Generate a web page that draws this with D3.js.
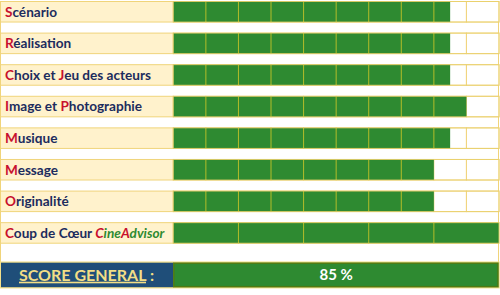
<!DOCTYPE html>
<html>
<head>
<meta charset="utf-8">
<script src="https://cdn.jsdelivr.net/npm/d3@7"></script>
<style>
  body { margin: 0; background: #fff; }
  svg { display: block; }
  .label { font-family: Lato, "Open Sans", sans-serif; font-weight: bold; font-size: 13.6px; }
</style>
</head>
<body>
<svg width="500" height="295"></svg>
<script>
// Criteria, first letters in red, rest in navy
var categories = ['Scénario', 'Réalisation', 'Choix et Jeu des acteurs', 'Image et Photographie',
  'Musique', 'Message', 'Originalité', 'Coup de Cœur CineAdvisor'];
// score out of 10 for each criterion
var scores = [8.5, 8.5, 8.5, 9, 8.5, 8, 8, 10];
// number of boxes drawn in each row
var cellCounts = [10, 10, 10, 10, 10, 10, 10, 5];
var maxScore = 10;
var scoreLabel = 'SCORE GENERAL';
var scoreText = '85 %';

var svg = d3.select('svg');
var labelW = 173.3;
var right = 499;

var x = d3.scaleLinear().domain([0, maxScore]).range([labelW, right]);
var y = d3.scaleBand().domain(categories).range([1.5, 243.2]).paddingInner(0.35);

var green = '#2E8A31';
var cream = '#FFF2CC';
var yellowLine = '#F0D47A';
var navy = '#1C2C5E';
var red = '#C8102E';

// white frame behind rows (gaps between rows)
svg.append('rect')
  .attr('x', 0.5).attr('y', 1.5)
  .attr('width', right - 1).attr('height', 261.2)
  .attr('fill', '#fff').attr('stroke', yellowLine).attr('stroke-width', 1);

var rows = svg.selectAll('g.row')
  .data(categories)
  .enter().append('g')
  .attr('class', 'row')
  .attr('transform', function(d) { return 'translate(0,' + y(d) + ')'; });

// label cell
rows.append('rect')
  .attr('x', 0.5).attr('y', 0)
  .attr('width', labelW - 0.5).attr('height', y.bandwidth())
  .attr('fill', cream).attr('stroke', yellowLine);

// score cells
rows.each(function(d, i) {
  var g = d3.select(this);
  var n = cellCounts[i];
  var step = maxScore / n;
  var cells = d3.range(n).map(function(k) { return k * step; });
  g.selectAll('rect.cell')
    .data(cells)
    .enter().append('rect')
    .attr('class', 'cell')
    .attr('x', function(c) { return x(c); })
    .attr('y', 0)
    .attr('width', x(step) - x(0))
    .attr('height', y.bandwidth())
    .attr('fill', '#fff')
    .attr('stroke', yellowLine);
  g.append('rect')
    .attr('x', x(0)).attr('y', 0)
    .attr('width', x(scores[i]) - x(0))
    .attr('height', y.bandwidth())
    .attr('fill', green);
  // lines between cells, drawn over the green
  g.selectAll('line.sep')
    .data(cells.slice(1).filter(function(c) { return c < scores[i]; }))
    .enter().append('line')
    .attr('x1', function(c) { return x(c); })
    .attr('x2', function(c) { return x(c); })
    .attr('y1', 0).attr('y2', y.bandwidth())
    .attr('stroke', '#B3BC2A').attr('stroke-width', 1);
  // row outline over the bar
  g.append('rect')
    .attr('x', x(0)).attr('y', 0)
    .attr('width', x(maxScore) - x(0))
    .attr('height', y.bandwidth())
    .attr('fill', 'none')
    .attr('stroke', '#E9D06A').attr('stroke-opacity', 0.8);
});

// label text: red capital letters
function parts(name) {
  if (name === 'Coup de Cœur CineAdvisor') {
    return [
      { t: 'C', c: red }, { t: 'oup de Cœur ', c: navy },
      { t: 'C', c: red, i: true }, { t: 'ine', c: green, i: true },
      { t: 'A', c: red, i: true }, { t: 'dvisor', c: green, i: true }
    ];
  }
  if (name === 'Choix et Jeu des acteurs') {
    return [{ t: 'C', c: red }, { t: 'hoix et ', c: navy }, { t: 'J', c: red }, { t: 'eu des acteurs', c: navy }];
  }
  if (name === 'Image et Photographie') {
    return [{ t: 'I', c: red }, { t: 'mage et ', c: navy }, { t: 'P', c: red }, { t: 'hotographie', c: navy }];
  }
  return [{ t: name[0], c: red }, { t: name.slice(1), c: navy }];
}

rows.append('text')
  .attr('class', 'label')
  .attr('x', 5)
  .attr('y', y.bandwidth() / 2)
  .attr('dy', '0.36em')
  .each(function(d) {
    var t = d3.select(this);
    parts(d).forEach(function(p) {
      t.append('tspan')
        .attr('fill', p.c)
        .style('font-style', p.i ? 'italic' : 'normal')
        .text(p.t);
    });
  });

// score row
var sy = 262.7, sh = 24.5;
svg.append('rect')
  .attr('x', 0.5).attr('y', sy - 0.5)
  .attr('width', right - 0.5).attr('height', sh + 1)
  .attr('fill', 'none').attr('stroke', '#F3E08A').attr('stroke-width', 1.5);
svg.append('rect')
  .attr('x', 1).attr('y', sy)
  .attr('width', labelW - 1).attr('height', sh)
  .attr('fill', '#1F4E79');
svg.append('rect')
  .attr('x', x(0) + 0.5).attr('y', sy + 0.5)
  .attr('width', x(maxScore) - x(0) - 1.5).attr('height', sh - 1)
  .attr('fill', green).attr('stroke', '#4F7A12').attr('stroke-width', 1.5);

var st = svg.append('text')
  .attr('x', 19)
  .attr('y', sy + sh / 2)
  .attr('dy', '0.36em')
  .attr('fill', '#F2DE86')
  .style('font-family', 'Lato, "Open Sans", sans-serif')
  .style('font-weight', 'bold')
  .style('font-size', '16px');
st.append('tspan').style('text-decoration', 'underline').text(scoreLabel);
st.append('tspan').text(' :');

svg.append('text')
  .attr('x', (x(0) + x(maxScore)) / 2)
  .attr('y', sy + sh / 2)
  .attr('dy', '0.36em')
  .attr('text-anchor', 'middle')
  .attr('fill', '#fff')
  .style('font-family', 'Lato, "Open Sans", sans-serif')
  .style('font-weight', 'bold')
  .style('font-size', '15px')
  .text(scoreText);
</script>
</body>
</html>
